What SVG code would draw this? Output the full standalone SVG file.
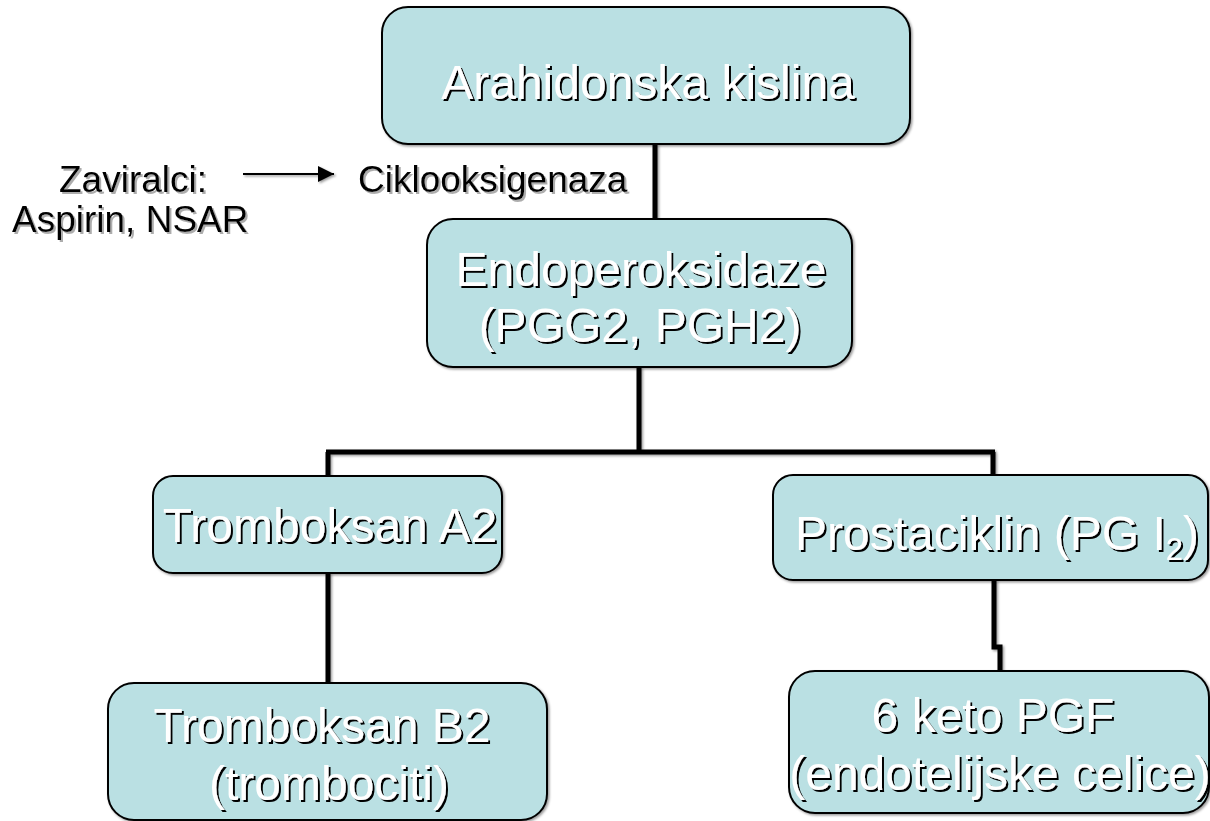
<svg xmlns="http://www.w3.org/2000/svg" width="1210" height="821" viewBox="0 0 1210 821">
<style>
.box{fill:#BAE0E3;stroke:#000;stroke-width:2}
.bt{font-family:"Liberation Sans",Arial,sans-serif;font-size:48px;fill:#fff;filter:url(#ts)}
.lt{font-family:"Liberation Sans",Arial,sans-serif;font-size:37px;fill:#000;filter:url(#ts2)}
.con{fill:none;stroke:#000;stroke-width:5;stroke-linejoin:miter}
</style>
<defs>
<filter id="ts" x="-5%" y="-20%" width="110%" height="140%">
<feDropShadow dx="2" dy="2" stdDeviation="0.4" flood-color="#000" flood-opacity="1"/>
</filter>
<filter id="ts2" x="-5%" y="-20%" width="110%" height="140%">
<feDropShadow dx="2" dy="2" stdDeviation="0.6" flood-color="#999" flood-opacity="0.8"/>
</filter>
<filter id="bs" x="-5%" y="-5%" width="110%" height="110%">
<feDropShadow dx="1.5" dy="1.5" stdDeviation="0.8" flood-color="#000" flood-opacity="0.4"/>
</filter>
<marker id="ah" viewBox="0 0 16 16" refX="16" refY="8" markerWidth="16" markerHeight="16" markerUnits="userSpaceOnUse" orient="auto">
<path d="M0,0 L16,8 L0,16 Z" fill="#000"/>
</marker>
</defs>

<g id="connectors" filter="url(#bs)">
<path class="con" d="M655,144 V219"/>
<path class="con" d="M639,367 V452"/>
<path class="con" d="M326,452 H995"/>
<path class="con" d="M328,452 V476"/>
<path class="con" d="M993,452 V476"/>
<path class="con" d="M328,573 V683"/>
<path class="con" d="M994,580 V647 H1000 V671"/>
<path d="M243,174 H334" stroke="#000" stroke-width="2" fill="none" marker-end="url(#ah)"/>
</g>

<g id="arahidonska">
<rect class="box" x="382" y="7" width="528" height="137" rx="26" filter="url(#bs)"/>
<text class="bt" x="648" y="99" text-anchor="middle">Arahidonska kislina</text>
</g>

<g id="zaviralci">
<text class="lt" x="59" y="192">Zaviralci:</text>
<text class="lt" x="12" y="232">Aspirin, NSAR</text>
</g>

<g id="ciklooksigenaza">
<text class="lt" x="358" y="192">Ciklooksigenaza</text>
</g>

<g id="endoperoksidaze">
<rect class="box" x="427" y="219" width="425" height="148" rx="26" filter="url(#bs)"/>
<text class="bt" x="641" y="286" text-anchor="middle">Endoperoksidaze</text>
<text class="bt" x="640" y="342" text-anchor="middle">(PGG2, PGH2)</text>
</g>

<g id="tromboksanA2">
<rect class="box" x="153" y="476" width="349" height="97" rx="20" filter="url(#bs)"/>
<text class="bt" x="330" y="542" text-anchor="middle">Tromboksan A2</text>
</g>

<g id="prostaciklin">
<rect class="box" x="773" y="475" width="435" height="105" rx="20" filter="url(#bs)"/>
<text class="bt" x="795" y="550">Prostaciklin (PG I<tspan font-size="31" dy="10">2</tspan><tspan dy="-10">)</tspan></text>
</g>

<g id="tromboksanB2">
<rect class="box" x="108" y="683" width="439" height="137" rx="26" filter="url(#bs)"/>
<text class="bt" x="322" y="742" text-anchor="middle">Tromboksan B2</text>
<text class="bt" x="329" y="800" text-anchor="middle">(trombociti)</text>
</g>

<g id="keto">
<rect class="box" x="789" y="671" width="420" height="142" rx="26" filter="url(#bs)"/>
<text class="bt" x="993" y="732" text-anchor="middle">6 keto PGF</text>
<text class="bt" x="1000" y="790" text-anchor="middle">(endotelijske celice)</text>
</g>
</svg>
